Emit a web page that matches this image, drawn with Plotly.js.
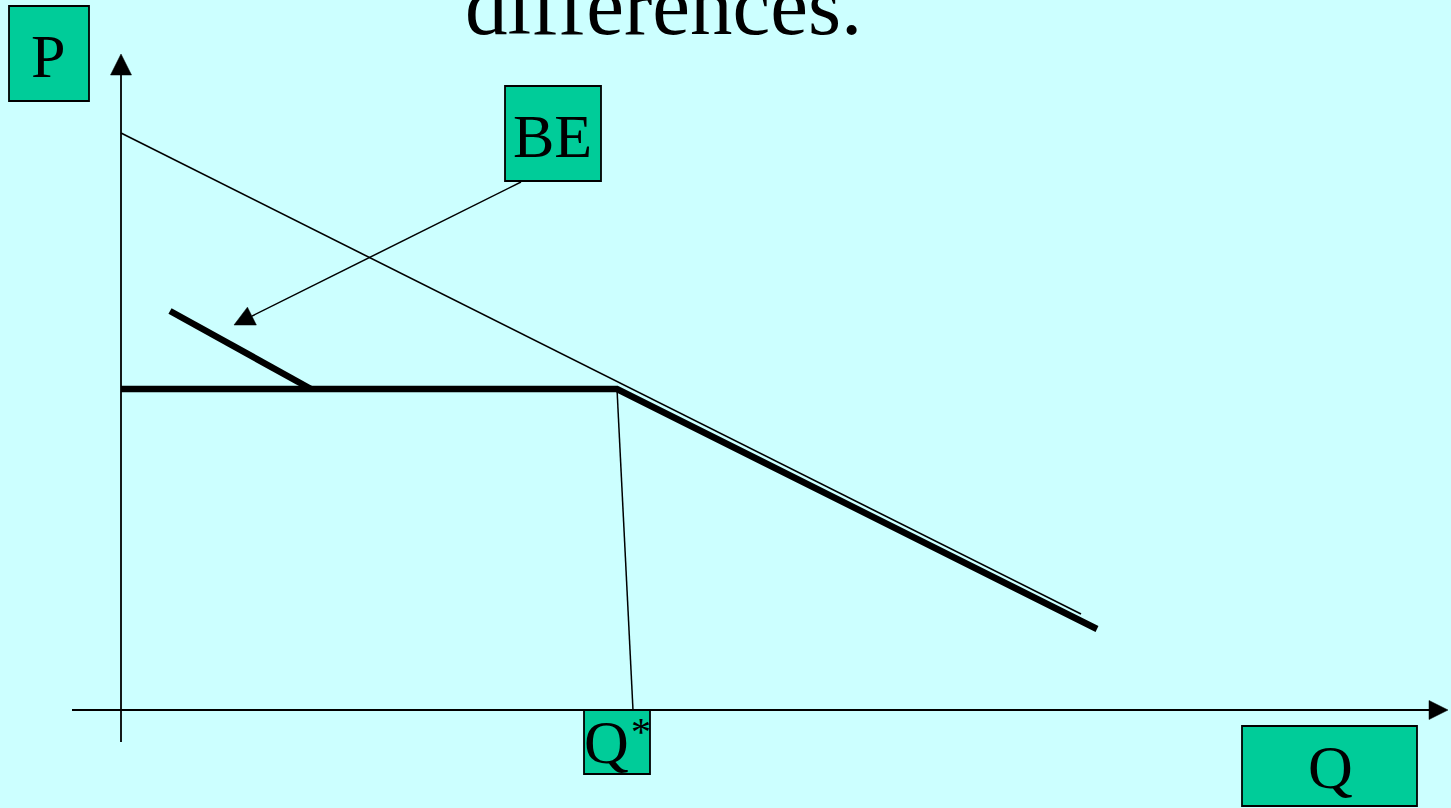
<!DOCTYPE html>
<html>
<head>
<meta charset="utf-8">
<script src="https://cdn.plot.ly/plotly-3.0.1.min.js"></script>
<style>html,body{margin:0;padding:0;background:#CCFFFF;overflow:hidden}</style>
</head>
<body>
<div id="chart" style="width:1451px;height:808px"></div>
<script>
// ---- Data (quantity Q, price P; origin at the axes' crossing) ----
const demandQ = [0, 960];          // thin demand line
const demandP = [577, 96];
const kinkedQ = [0, 496, 976];     // thick kinked curve (flat then falling)
const kinkedP = [321, 321, 81];
const beQ = [49, 190];             // thick BE segment
const beP = [399, 321];
const dropQ = [496, 512];          // thin line down to Q*
const dropP = [321, 0];
const yAxisQ = [0, 0];             // P axis (bottom, arrow tip)
const yAxisP = [-32, 656];
const xAxisQ = [-49, 1327];        // Q axis (left, arrow tip)
const xAxisP = [0, 0];
const beArrowQ = [400, 113];       // BE pointer (start, tip)
const beArrowP = [528, 385];
const labels = {title: "differences.", p: "P", be: "BE", qstar: "Q", star: "*", q: "Q"};

// ---- helpers ----
function arrow(xs, ys, len, half) {
  const dx = xs[1] - xs[0], dy = ys[1] - ys[0];
  const L = Math.hypot(dx, dy), ux = dx / L, uy = dy / L;
  const bx = xs[1] - len * ux, by = ys[1] - len * uy;
  const nx = -uy, ny = ux;
  return {
    shaft: {x: [xs[0], bx], y: [ys[0], by]},
    head: {x: [xs[1], bx + half * nx, bx - half * nx, xs[1]],
           y: [ys[1], by + half * ny, by - half * ny, ys[1]]}
  };
}
const ink = "#000000";
const traces = [];
function line(x, y, w) {
  traces.push({x: x, y: y, mode: "lines", line: {color: ink, width: w}, hoverinfo: "skip", showlegend: false});
}
function tri(h) {
  traces.push({x: h.x, y: h.y, mode: "lines", fill: "toself", fillcolor: ink, line: {color: ink, width: 0.5}, hoverinfo: "skip", showlegend: false});
}
const ya = arrow(yAxisQ, yAxisP, 21, 10.5);
const xa = arrow(xAxisQ, xAxisP, 19, 9.5);
const ba = arrow(beArrowQ, beArrowP, 20, 10);
line(ya.shaft.x, ya.shaft.y, 1.8); tri(ya.head);
line(xa.shaft.x, xa.shaft.y, 1.8); tri(xa.head);
line(ba.shaft.x, ba.shaft.y, 1.5); tri(ba.head);
line(kinkedQ, kinkedP, 6.5);
line(beQ, beP, 6.5);
line(dropQ, dropP, 1.5);
line(demandQ, demandP, 1.6);

const boxFill = "#00CC99";
function box(x0, x1, y0, y1) {
  return {type: "rect", xref: "x", yref: "y", x0: x0, x1: x1, y0: y0, y1: y1,
          fillcolor: boxFill, line: {color: ink, width: 1.8}, layer: "above"};
}
const serif = "Liberation Serif, Times New Roman, serif";
function txt(t, x, y, size) {
  return {text: t, x: x, y: y, xref: "x", yref: "y", showarrow: false,
          xanchor: "center", yanchor: "middle", font: {family: serif, size: size, color: ink}};
}

const layout = {
  width: 1451, height: 808,
  margin: {l: 0, r: 0, t: 0, b: 0, pad: 0},
  paper_bgcolor: "#CCFFFF", plot_bgcolor: "#CCFFFF",
  xaxis: {range: [-121, 1330], visible: false, fixedrange: true},
  yaxis: {range: [-98, 710], visible: false, fixedrange: true},
  showlegend: false,
  shapes: [
    box(-112, -32, 609, 704),
    box(384, 480, 529, 624),
    box(463, 529, -64, 0),
    box(1121, 1296, -96, -16)
  ],
  annotations: [
    txt(labels.title, 542.5, 705.5, 85),
    txt(labels.p, -73, 654, 62),
    txt(labels.be, 431, 574.5, 62),
    txt(labels.qstar, 485, -32, 62),
    txt(labels.star, 519.5, -21, 40),
    txt(labels.q, 1209, -57, 62)
  ]
};
Plotly.newPlot("chart", traces, layout, {staticPlot: true, displayModeBar: false});
</script>
</body>
</html>
